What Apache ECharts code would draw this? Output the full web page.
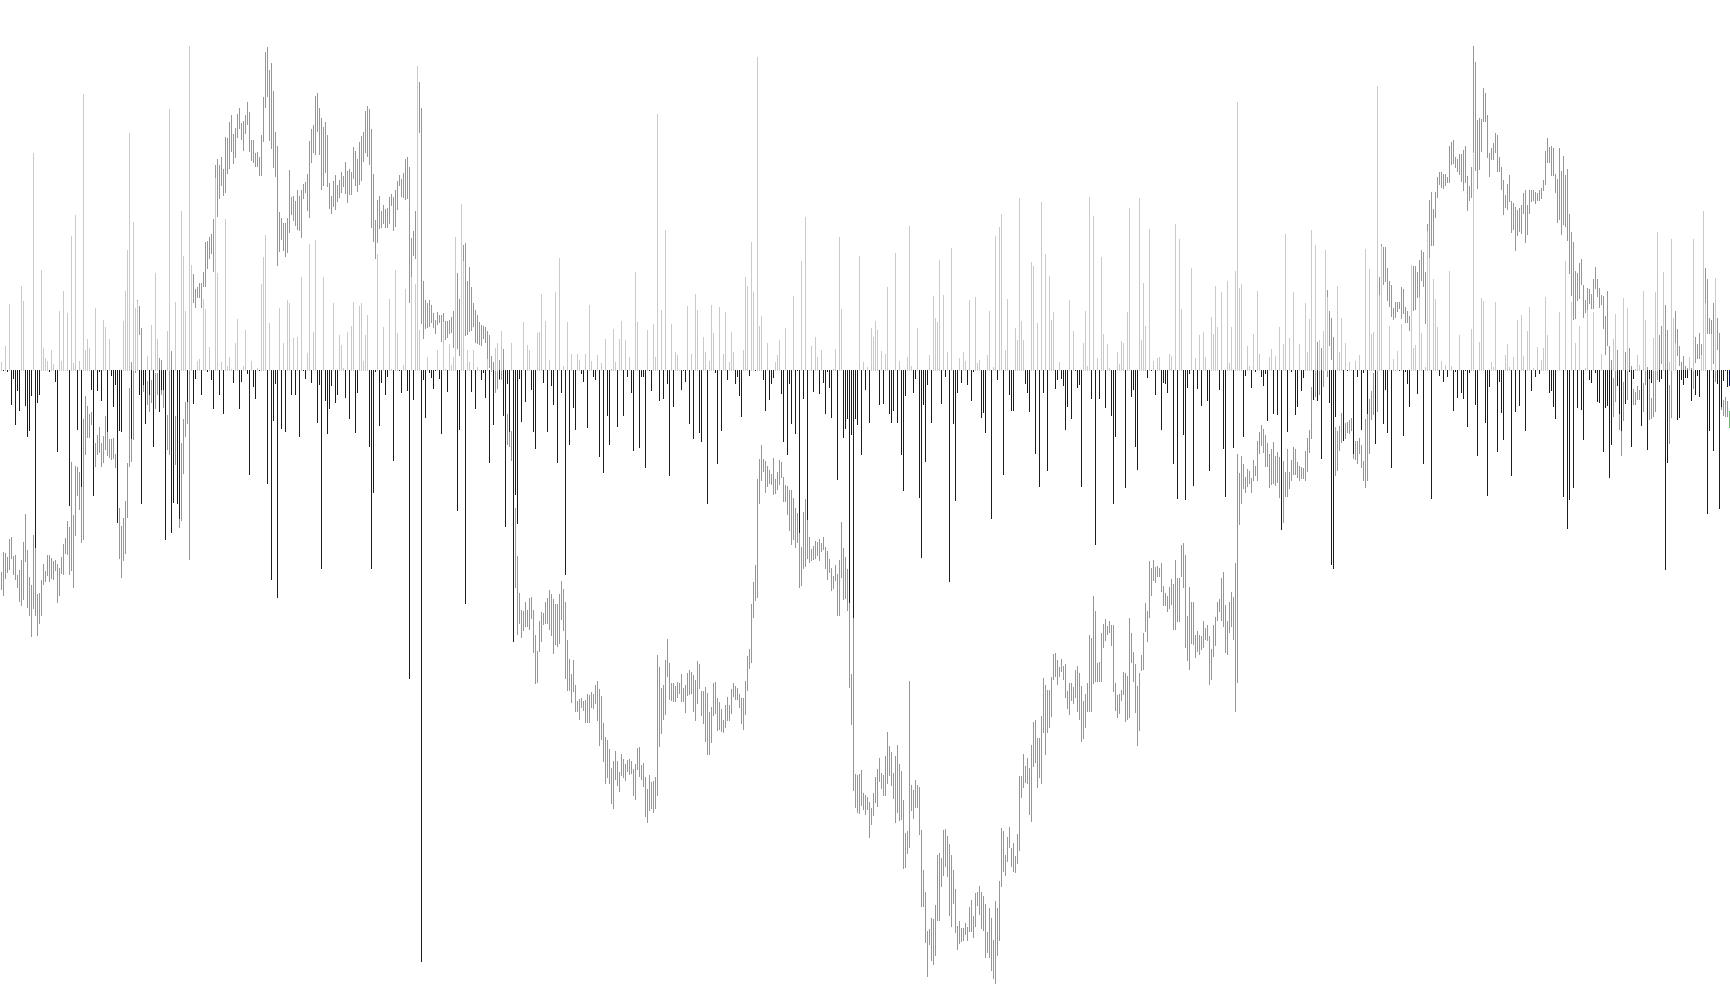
<!DOCTYPE html>
<html><head><meta charset="utf-8">
<style>html,body{margin:0;padding:0;background:#fff;overflow:hidden;width:1730px;height:1005px}#c{width:1732px;height:1005px}</style>
<script src="https://cdn.jsdelivr.net/npm/echarts@6/dist/echarts.min.js"></script>
</head><body><div id="c"></div>
<script>
const flow = [
9,-1,25,-2,67,-35,-9,-55,-21,-41,
85,70,-36,-67,-61,-26,218,-178,-33,-25,
101,23,13,10,-2,21,7,-12,-82,60,
10,80,1,58,-136,135,8,156,-60,10,
-117,277,21,32,23,-20,-126,63,-21,-2,
-31,51,44,-62,32,-6,-37,-15,-153,-61,
-62,50,80,121,238,-69,149,63,70,-25,
-134,-15,-54,15,-25,46,-77,98,32,-42,
-20,-20,-170,40,262,-163,-133,69,-134,-149,
160,115,60,-32,325,106,-34,-9,10,12,
-25,72,62,-2,24,-10,-39,193,98,-25,
9,-44,152,5,14,2,-13,28,52,-39,
-12,5,41,-4,-105,10,-17,-29,3,-1,
87,114,136,-114,48,-210,-51,-14,-228,63,
-59,28,-62,71,68,-25,33,-25,34,-67,
94,-1,-9,18,127,-13,39,131,-53,-15,
-199,94,-31,-64,-39,-16,68,-33,-25,36,
26,3,-28,39,-49,45,69,-63,-23,65,
68,10,36,56,-77,-199,-123,-2,117,-56,
-13,44,-25,-7,72,2,-91,101,38,-1,
-23,6,82,-21,-309,94,-30,87,305,41,
-592,-10,-48,14,-3,-8,-19,-1,21,-9,
-64,49,2,-22,27,6,14,134,-141,-60,
167,110,-234,21,9,-22,21,-39,4,1,
-10,-3,-28,12,-93,1,-55,23,28,-9,
40,-46,-157,-14,-62,28,-272,-125,-154,-9,
-52,49,-32,26,21,-20,-62,-79,38,39,
77,-13,50,-62,11,-16,-35,79,-93,113,
-23,5,-205,49,-75,17,-38,-60,17,11,
-4,-12,17,-58,66,10,-7,-10,16,-87,
8,-103,32,-46,-75,2,42,9,-57,32,
50,-46,31,-7,14,-23,-81,99,49,-78,
-7,-7,-98,41,-1,-21,47,14,257,-31,
61,-29,141,-14,-106,47,-37,19,16,1,
-20,-1,-12,65,-54,17,-69,77,61,-63,
-72,34,19,-134,10,66,38,-3,-94,64,
-61,17,59,-10,9,39,19,-14,-7,-26,
-47,21,94,85,-6,129,79,-1,314,45,
55,-10,-41,28,-30,-14,-8,9,16,31,
-24,-72,43,-85,-14,-54,75,-64,-1,-163,
110,-29,154,-150,1,25,-22,34,14,-24,
21,-13,-44,-2,-18,-48,2,22,-110,134,
62,-68,-59,-49,-233,-65,-248,-49,-55,115,
-85,9,-20,4,-53,43,34,50,41,-35,
20,-34,17,84,-44,-53,-41,118,-53,10,
-85,-121,-26,14,145,5,-23,-9,43,-128,
-188,-35,-92,-15,16,-53,75,53,49,111,
-34,76,-7,19,-212,123,-54,-131,-23,13,
-13,19,10,-15,71,-31,-2,74,8,11,
-48,-43,-63,16,60,-149,4,135,-10,144,
157,-105,21,72,-25,-41,-41,43,31,173,
50,31,-14,-23,-42,109,105,-84,48,-117,
169,-23,117,-101,95,51,59,-19,-10,9,
-9,-16,-60,-37,71,-49,40,-1,-18,-15,
-117,28,60,5,174,-29,155,-175,13,-29,
114,37,-38,27,3,-46,-134,-67,19,7,
30,28,-118,59,163,-27,-20,-77,-100,173,
31,88,45,-8,142,-1,10,-25,13,14,
-60,-13,-14,-23,17,15,-94,147,-129,132,
62,-65,-130,-18,-4,103,-116,13,-19,36,
-36,39,14,-31,-101,54,37,85,44,-20,
79,-79,-127,90,8,44,-78,100,269,83,
87,-67,-6,25,5,-18,37,-2,80,17,
-7,-16,-4,-51,14,22,-44,15,-45,44,
-160,27,137,-62,33,-2,79,-45,-37,27,
-21,-8,68,19,52,141,-30,126,-31,31,
-89,40,121,74,-33,-195,-199,-47,85,19,
53,-71,28,-1,9,1,-84,10,-7,16,
-60,-3,122,-44,102,37,39,-74,285,76,
125,-54,-20,-63,45,-98,12,1,20,-1,
47,-66,-2,-14,-37,106,23,26,-24,74,
38,-94,4,140,113,-129,92,72,44,-6,
10,-12,6,-7,100,5,-41,-2,-28,36,
-23,-29,-1,-57,-3,42,217,-35,-86,29,
73,70,-53,-126,-17,9,4,69,-82,-12,
-43,-70,16,27,4,-106,14,-42,51,-36,
56,15,-61,40,64,-21,3,-7,24,-4,
11,23,74,36,-23,-21,-37,-49,1,59,
1,-127,110,-159,-130,69,-118,28,-38,45,
-40,-70,3,61,-10,-13,59,-3,-32,-33,
17,-82,-38,-36,-108,-75,32,57,-16,-44,
-61,73,-34,63,-2,-77,-9,2,16,6,
-56,80,51,-80,-9,-13,33,79,139,-12,
-9,99,-200,-93,9,132,53,28,-50,-48,
-10,-15,-8,-8,14,-31,132,-25,-6,-27,
16,160,68,-144,-61,37,-81,93,-14,-139,
-37,-11,-1,-17,-16
];
const rangeTop = [
572,552,553,557,539,537,556,555,575,570,
560,542,514,550,577,585,535,548,594,593,
580,564,571,555,555,558,561,560,564,568,
557,544,538,521,527,462,515,466,467,472,
487,419,396,406,414,412,419,443,435,427,
443,436,416,432,439,439,438,454,470,508,
526,518,501,463,388,362,371,310,300,306,
328,375,370,381,380,380,372,373,373,358,
360,390,410,415,370,351,370,416,440,462,
443,419,402,402,371,272,274,289,287,283,
283,272,242,241,237,234,219,165,159,165,
157,169,137,138,122,115,134,128,114,108,
123,121,115,102,112,140,140,153,152,157,
135,97,52,47,70,63,91,132,146,212,
218,223,223,218,170,197,196,201,190,196,
190,184,182,174,141,129,125,96,93,108,
118,127,122,135,183,196,181,175,185,180,
172,176,162,171,169,172,147,151,159,142,
136,132,111,106,109,129,174,220,200,196,
211,205,209,208,197,194,197,190,181,175,
179,173,159,157,167,238,231,211,100,82,
108,281,300,303,300,305,313,320,312,315,
315,313,321,321,320,317,311,250,273,299,
260,245,243,281,267,287,303,310,315,322,
325,326,327,331,335,356,362,366,371,360,
366,349,385,414,432,431,450,508,556,593,
610,611,602,610,598,597,610,635,651,621,
612,613,602,598,590,594,599,604,604,594,
581,589,602,640,659,674,660,685,701,699,
698,701,700,694,695,692,694,685,681,689,
696,723,737,740,749,768,761,751,761,772,
754,759,764,760,759,761,769,764,748,747,
765,763,777,789,775,782,781,777,655,667,
688,685,660,639,663,683,683,686,682,683,
674,688,685,673,670,672,675,680,661,664,
691,691,687,693,712,707,683,682,698,702,
709,720,705,697,705,689,683,686,688,694,
698,698,681,656,649,604,582,565,479,459,
445,459,461,466,470,474,458,479,472,460,
462,477,485,486,490,490,498,508,513,533,
547,512,499,520,537,549,546,541,542,539,
543,537,547,551,559,568,576,565,574,560,
522,548,557,569,603,674,618,774,775,774,
770,793,795,797,802,808,793,777,769,758,
773,775,756,732,746,752,773,756,745,764,
771,800,833,831,681,785,790,780,785,787,
830,870,892,931,929,918,919,905,855,853,
858,830,829,836,844,855,870,889,926,921,
928,928,923,927,907,900,916,893,892,886,
892,896,904,932,908,918,940,901,908,881,
828,831,855,837,827,848,843,856,834,776,
776,754,766,758,768,745,722,720,738,738,
716,678,685,690,690,677,654,653,660,667,
659,666,664,691,683,683,687,670,666,673,
686,701,694,683,635,638,596,611,663,662,
633,624,619,626,621,625,625,683,695,694,
690,672,673,676,618,633,652,664,686,673,
655,633,603,611,561,568,560,567,566,568,
563,586,593,596,587,579,584,560,578,578,
545,543,555,616,587,602,602,635,631,635,
636,621,628,625,636,649,625,617,602,599,
578,572,605,621,602,592,597,563,454,473,
456,464,477,469,471,478,460,466,441,432,
425,429,435,443,454,449,442,456,452,457,
460,461,472,449,472,460,447,449,462,466,
467,468,451,438,430,387,370,369,342,348,
348,370,330,290,311,318,337,427,431,426,
413,429,423,422,420,418,430,441,441,438,
445,461,419,414,399,391,373,370,370,277,
244,247,247,268,281,285,308,302,302,302,
287,289,307,311,316,280,266,266,272,260,
250,252,272,224,200,192,209,192,177,172,
172,174,174,177,146,142,140,157,159,154,
154,150,146,176,186,167,46,62,120,118,
119,88,93,115,153,148,143,133,135,157,
167,180,195,184,175,201,203,207,210,208,
205,193,190,205,190,190,190,192,193,190,
188,180,151,138,147,146,148,174,179,148,
171,156,175,169,214,232,242,271,273,263,
259,285,300,288,289,294,279,267,279,288,
295,296,316,291,346,360,378,371,350,414,
431,382,352,370,348,366,389,392,386,390,
385,383,370,367,379,398,370,371,371,335,
326,340,305,330,385,371,340,311,329,346,
362,356,366,368,357,368,370,337,344,333,
344,340,268,279,318,320,303,347,318,333,
390,400,397,401,411
];
const rangeBottom = [
590,596,579,573,570,559,575,580,588,602,
606,600,562,608,616,637,609,616,636,624,
616,585,582,576,582,579,580,571,603,596,
574,575,554,555,575,571,588,536,496,510,
543,540,455,438,438,425,455,467,455,453,
467,463,450,456,458,460,459,468,523,559,
578,561,554,518,467,462,440,373,360,335,
395,392,410,405,412,403,409,409,395,395,
395,408,450,450,455,405,430,465,500,528,
521,474,437,424,560,300,303,308,298,298,
308,287,287,269,259,254,272,215,217,199,
186,196,193,174,169,152,164,158,138,129,
140,151,134,125,152,161,163,167,167,176,
176,142,108,97,141,149,168,177,266,252,
240,251,257,253,233,215,221,226,230,231,
238,199,193,211,218,163,153,155,132,155,
190,186,173,187,209,214,207,210,202,198,
193,187,194,203,195,195,179,186,192,185,
181,162,153,157,165,228,242,259,243,229,
228,224,228,228,224,206,231,227,210,186,
197,198,200,199,303,277,256,259,170,133,
324,339,329,328,327,323,328,334,325,323,
342,339,340,338,334,333,348,330,349,356,
340,341,336,335,332,331,327,343,344,345,
346,339,343,359,368,372,385,393,389,380,
380,400,420,445,447,461,500,588,635,624,
638,631,627,627,630,619,653,684,683,652,
642,625,624,624,630,636,654,645,647,644,
620,631,679,691,691,703,692,712,712,720,
708,711,723,723,723,708,709,704,721,746,
740,762,784,778,784,804,809,780,786,792,
776,778,781,772,775,774,796,800,770,777,
780,787,817,823,811,809,813,809,796,747,
734,720,715,677,700,701,702,702,698,694,
702,702,713,696,695,694,712,721,704,689,
716,724,742,755,755,743,716,714,731,730,
732,733,728,721,721,714,697,700,700,708,
724,730,715,691,669,663,618,601,598,504,
481,472,493,487,484,485,495,494,490,485,
478,502,502,515,531,545,540,548,543,588,
586,569,567,559,563,561,560,559,556,561,
552,550,569,580,573,591,589,581,616,616,
578,600,599,611,688,725,791,808,813,814,
806,810,815,810,838,825,816,803,807,782,
789,796,796,784,776,786,799,823,813,821,
820,869,868,854,848,811,819,808,808,835,
907,907,943,977,945,961,965,956,921,921,
887,876,867,877,916,927,904,933,950,944,
942,941,935,941,932,932,938,927,906,915,
929,931,958,953,958,971,979,984,956,941,
887,872,876,862,848,867,872,873,864,851,
798,788,783,784,815,822,767,763,788,778,
784,733,755,733,728,717,680,677,685,677,
672,680,698,709,715,701,704,698,712,720,
742,739,728,712,712,712,684,682,682,682,
682,648,641,635,633,646,692,711,718,714,
701,695,722,720,718,663,682,713,746,731,
671,670,632,642,618,596,581,583,577,577,
592,606,606,612,609,605,630,630,622,622,
577,588,648,661,670,644,645,658,652,655,
650,648,640,641,685,680,657,646,621,612,
621,627,653,655,633,627,640,712,683,525,
504,489,493,487,484,493,481,476,481,454,
446,453,467,467,488,485,484,486,483,498,
510,523,497,497,489,481,475,475,478,481,
479,479,481,472,453,439,400,397,395,395,
387,387,370,377,346,360,400,476,471,451,
443,441,439,433,434,431,459,460,464,454,
468,481,488,481,454,420,415,405,412,330,
310,285,282,301,307,317,320,318,312,309,
319,314,323,323,331,310,311,310,298,297,
281,287,324,262,258,246,246,218,198,185,
188,189,186,183,183,165,164,168,172,175,
182,191,183,211,201,198,153,171,189,170,
152,122,122,158,177,160,160,153,172,172,
190,215,208,210,202,233,230,251,236,232,
234,214,243,235,214,202,201,204,201,201,
199,191,185,163,163,176,176,193,223,220,
235,225,227,241,274,296,320,319,301,299,
285,318,313,310,304,309,309,289,297,308,
305,329,355,346,370,375,417,402,386,430,
456,421,404,400,371,380,405,405,400,400,
420,412,385,380,420,419,417,412,380,379,
364,370,370,400,444,418,370,343,356,366,
380,385,378,378,370,385,389,363,359,359,
355,360,303,334,334,347,364,382,350,370,
410,416,417,417,428
];
const categories = flow.map((_, i) => i);
const chart = echarts.init(document.getElementById('c'), null, {renderer: 'canvas'});
const shared = {type: 'bar', barWidth: 1, barGap: '-100%', silent: true, animation: false};
chart.setOption({
  backgroundColor: '#ffffff',
  animation: false,
  tooltip: {show: false},
  grid: {left: 0.5, top: 0, width: 1730, height: 1005, containLabel: false},
  xAxis: {type: 'category', data: categories, show: false, boundaryGap: true},
  yAxis: [
    {type: 'value', min: -635, max: 370, show: false},
    {type: 'value', min: -634, max: 371, show: false},
    {type: 'value', min: 0, max: 1005, inverse: true, show: false}
  ],
  series: [
    {...shared, name: 'base', yAxisIndex: 2, stack: 'range', z: 1,
     itemStyle: {color: 'rgba(0,0,0,0)'}, data: rangeTop},
    {...shared, name: 'range', yAxisIndex: 2, stack: 'range', z: 1,
     itemStyle: {color: '#00ff00'}, data: rangeBottom.map((b, i) => b - rangeTop[i])},
    {...shared, name: 'up', yAxisIndex: 1, z: 2,
     itemStyle: {color: '#ffd700'}, data: flow.map(v => v > 0 ? v : '-')},
    {...shared, name: 'down', yAxisIndex: 0, z: 2,
     itemStyle: {color: '#0000ff'}, data: flow.map(v => v < 0 ? v : '-')}
  ]
});
</script></body></html>
